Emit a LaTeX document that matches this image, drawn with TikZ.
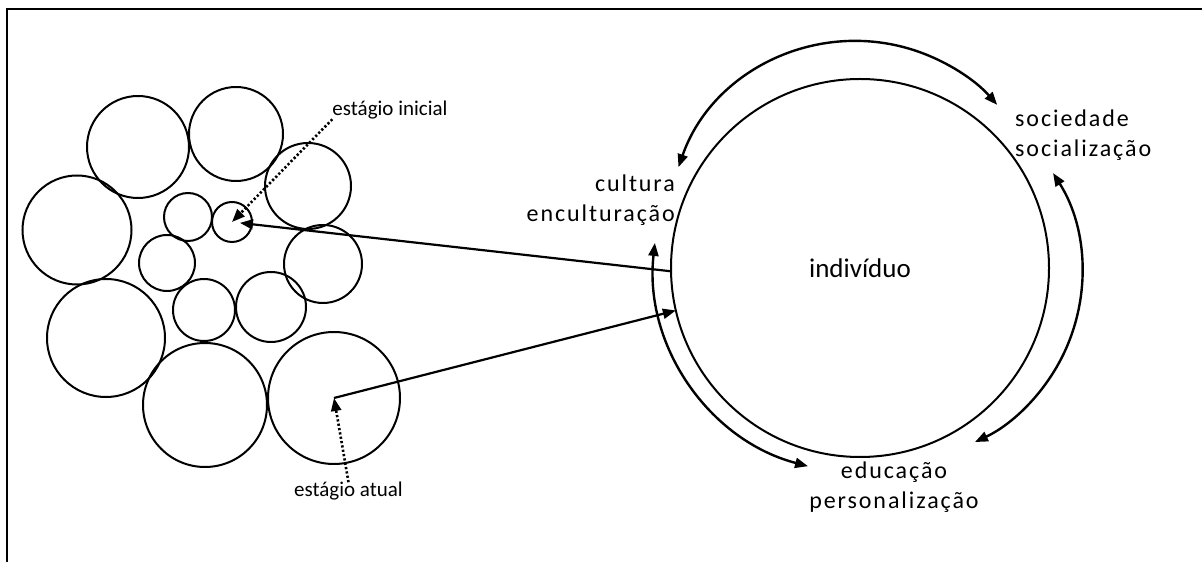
\documentclass[tikz,border=0pt]{standalone}
\usepackage{fontspec}
\setmainfont{Carlito}
\newfontfamily\spaced[LetterSpace=8]{Carlito}
\usetikzlibrary{arrows.meta}

\begin{document}
\begin{tikzpicture}[x=1pt,y=1pt,>={Triangle[length=13pt,width=10pt]},
  bubble/.style={circle,draw,inner sep=0pt,outer sep=0pt,line width=2pt},
  tag/.style={inner sep=0pt,font=\fontsize{21}{25}\selectfont},
  phase/.style={inner sep=0pt,font=\spaced\fontsize{24}{30}\selectfont},
  loopline/.style={<->,line width=2.4pt},
  dotarrow/.style={->,line width=2.6pt,dash pattern=on 2.2pt off 2.2pt}]

  \useasboundingbox (0,0) rectangle (1202,562);
  \draw[line width=2.4pt] (7,0) |- (1202,553);

  % cluster of stages
  \node[bubble,minimum size=102pt] (a) at (138,415) {};
  \node[bubble,minimum size=94pt]  (b) at (236,428) {};
  \node[bubble,minimum size=86pt]  (c) at (308,376) {};
  \node[bubble,minimum size=109pt] (d) at (77,332) {};
  \node[bubble,minimum size=48pt]  (e) at (188,345) {};
  \node[bubble,minimum size=40pt]  (f) at (232,340) {};
  \node[bubble,minimum size=78pt]  (g) at (323,298) {};
  \node[bubble,minimum size=56pt]  (h) at (167,299) {};
  \node[bubble,minimum size=62pt]  (i) at (204,252) {};
  \node[bubble,minimum size=70pt]  (j) at (271,255) {};
  \node[bubble,minimum size=118pt] (k) at (106,224) {};
  \node[bubble,minimum size=124pt] (l) at (205,157) {};
  \node[bubble,minimum size=132pt] (m) at (334,164) {};

  \node[tag] (ini) at (390,452) {estágio inicial};
  \node[tag] (atu) at (348.5,70.5) {estágio atual};

  % the individual and its three processes
  \node[bubble,minimum size=378pt,font=\fontsize{27}{32}\selectfont]
    (indiv) at (860,294) {indivíduo};
  \node[phase,align=right,anchor=east] (cult) at (675,362) {cultura\\enculturação};
  \node[phase,align=left,anchor=west] (soc) at (1015,427) {sociedade\\socialização};
  \node[phase,align=center] (edu) at (894,74.5) {educação\\personalização};

  \draw[loopline] ([shift={(160.8:188)}]856,333) arc[start angle=160.8,end angle=41.3,radius=188];
  \draw[loopline] ([shift={(32.3:187)}]895,289) arc[start angle=32.3,end angle=-64.7,radius=187];
  \draw[loopline] ([shift={(173.6:207)}]860.6,296) arc[start angle=173.6,end angle=255.3,radius=207];

  \draw[->,line width=2.2pt,shorten >=8pt] (indiv.181) -- (f.center);
  \draw[->,line width=2.2pt] (m.center) -- (indiv.193);
  \draw[dotarrow] (ini.south west) -- (f.center);
  \draw[dotarrow] (atu.north) -- (m.center);
\end{tikzpicture}
\end{document}
